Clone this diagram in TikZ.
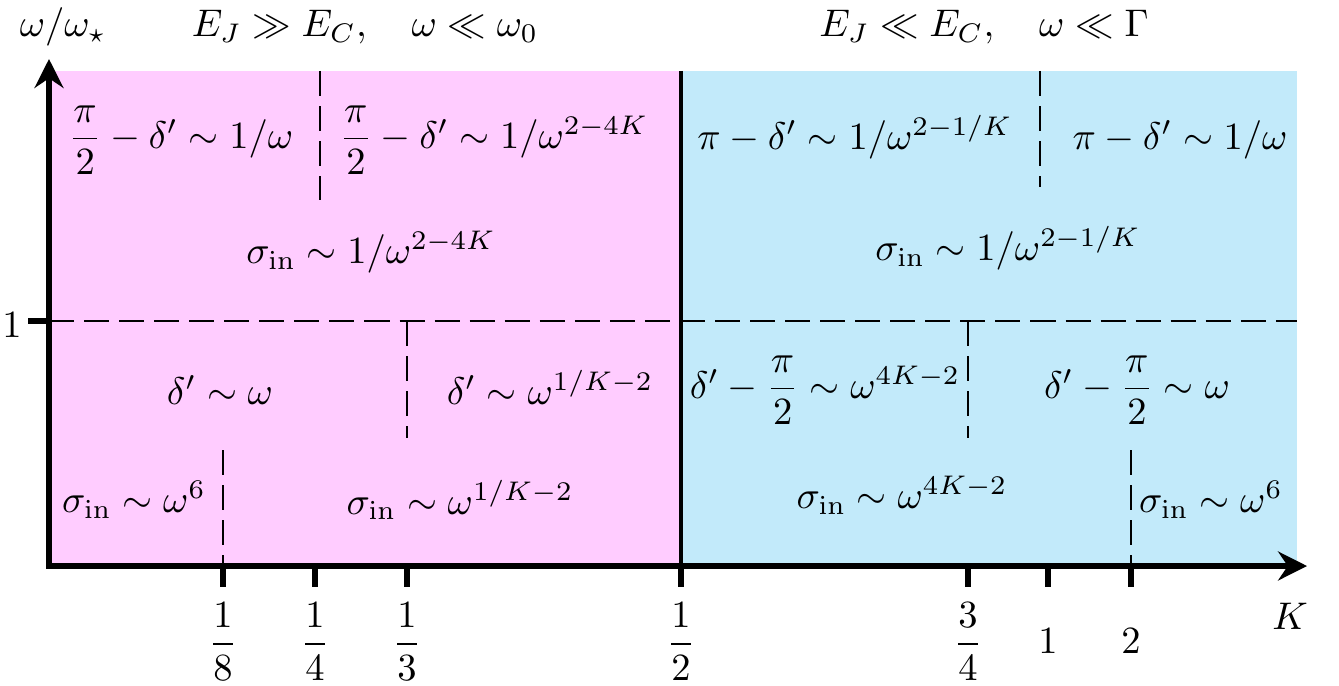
\documentclass[tikz,border=0pt]{standalone}
\usepackage{amsmath}
\usetikzlibrary{arrows.meta}
\definecolor{strongJ}{RGB}{255,204,255}
\definecolor{weakJ}{RGB}{194,234,250}
\tikzset{
  regime/.style={dash pattern=on 6.5pt off 2.6pt, line width=0.7pt},
  axisline/.style={line width=1.45pt},
  ticklab/.style={anchor=south, inner sep=0pt},
}
\begin{document}
\begin{tikzpicture}[x=0.00912cm, y=-0.00912cm]
				\useasboundingbox (0,0) rectangle (1339,685);
				\fill[strongJ] (49,71) rectangle (681,566);
				\fill[weakJ] (681,71) rectangle (1297,566);

				\draw[regime] (49,321) -- (1297,321);
				\draw[regime] (320,71) -- (320,200) (407,321) -- (407,438) (223,450) -- (223,566);
				\draw[regime] (1040,71) -- (1040,187) (968,321) -- (968,438) (1131,450) -- (1131,566);
				\draw[line width=0.8pt] (681,71) -- (681,566);

				\draw[axisline, {Stealth[length=7.5pt,width=7.5pt,inset=2.5pt]}-{Stealth[length=7.5pt,width=7.5pt,inset=2.5pt]}] (49,59) -- (49,566) -- (1307,566);
				\draw[axisline] (28,321) -- (49,321);
				\foreach \k in {223,315,407,681,968,1048,1131} \draw[axisline] (\k,566) -- (\k,587);

				\node (wlab) at (63,27) {$\omega/\omega_\star$};
				\node (leftT) at (365,27) {$E_J \gg E_C, \quad \omega \ll \omega_0$};
				\node (rightT) at (984,27) {$E_J \ll E_C, \quad \omega \ll \Gamma$};
				\node (one) at (12,325) {$1$};
				\node (Klab) at (1290,616) {$K$};

				\node[ticklab] (k8) at (223,681) {$\dfrac{1}{8}$}; \node[ticklab] (k4) at (315,681) {$\dfrac{1}{4}$};
				\node[ticklab] (k3) at (407,681) {$\dfrac{1}{3}$}; \node[ticklab] (k2) at (681,681) {$\dfrac{1}{2}$};
				\node[ticklab] (k34) at (968,681) {$\dfrac{3}{4}$}; \node (kone) at (1048,641) {$1$};
				\node (ktwo) at (1131,641) {$2$};

				\node (a1) at (181,140) {$\dfrac{\pi}{2} - \delta' \sim 1/\omega$};
				\node (a2) at (494,140) {$\dfrac{\pi}{2} - \delta' \sim 1/\omega^{2-4K}$};
				\node (a3) at (371,252) {$\sigma_{\rm in} \sim 1/\omega^{2-4K}$};
				\node (a4) at (220,390) {$\delta' \sim \omega$};
				\node (a5) at (550,387) {$\delta' \sim \omega^{1/K-2}$};
				\node (a6) at (134,500) {$\sigma_{\rm in} \sim \omega^6$};
				\node (a7) at (460,500) {$\sigma_{\rm in} \sim \omega^{1/K-2}$};

				\node (b1) at (855,137) {$\pi - \delta' \sim 1/\omega^{2-1/K}$};
				\node (b2) at (1180,140) {$\pi - \delta' \sim 1/\omega$};
				\node (b3) at (1008,248) {$\sigma_{\rm in} \sim 1/\omega^{2-1/K}$};
				\node (b4) at (825,390) {$\delta' - \dfrac{\pi}{2} \sim \omega^{4K-2}$};
				\node (b5) at (1137,390) {$\delta' - \dfrac{\pi}{2} \sim \omega$};
				\node (b6) at (902,495) {$\sigma_{\rm in} \sim \omega^{4K-2}$};
				\node (b7) at (1211,500) {$\sigma_{\rm in} \sim \omega^6$};
			\end{tikzpicture}
\end{document}
